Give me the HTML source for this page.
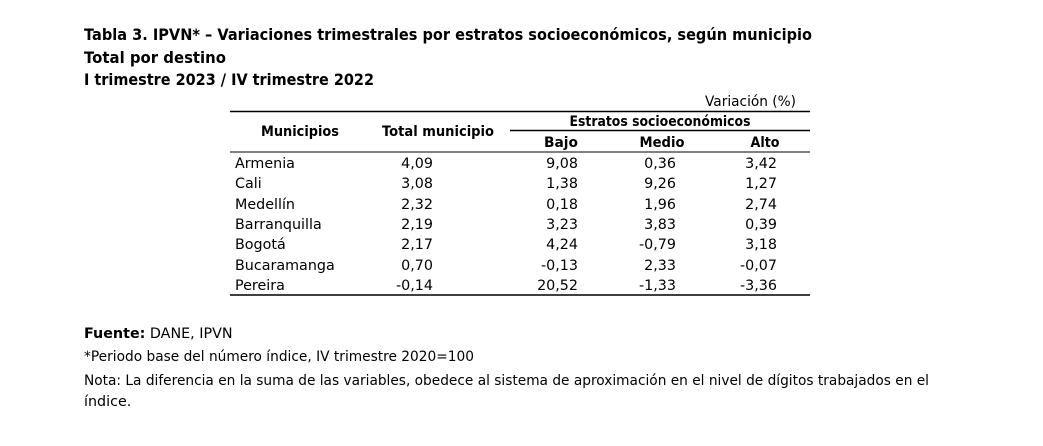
<!DOCTYPE html>
<html><head><meta charset="utf-8"><style>
body{margin:0;background:#fff;}
svg{display:block;}
text{font-family:"DejaVu Sans","Liberation Sans",sans-serif;fill:#000;}
.t{font-weight:bold;font-size:16px;}
.b{font-size:14.3px;}
.h{font-size:14px;font-weight:bold;}
.r{text-anchor:end;}
.m{text-anchor:middle;}
</style></head><body>
<svg width="1043" height="446" viewBox="0 0 1043 446">
<text class="t" x="84" y="40" textLength="728" lengthAdjust="spacingAndGlyphs">Tabla 3. IPVN* – Variaciones trimestrales por estratos socioeconómicos, según municipio</text>
<text class="t" x="84" y="63" textLength="142" lengthAdjust="spacingAndGlyphs">Total por destino</text>
<text class="t" x="84" y="85" textLength="290" lengthAdjust="spacingAndGlyphs">I trimestre 2023 / IV trimestre 2022</text>

<text class="b r" x="796" y="106" textLength="91" lengthAdjust="spacingAndGlyphs">Variación (%)</text>
<line x1="230" y1="111.5" x2="810" y2="111.5" stroke="#000" stroke-width="1.5"/>
<text class="h m" x="300" y="136" textLength="78" lengthAdjust="spacingAndGlyphs">Municipios</text>
<text class="h m" x="438" y="136" textLength="112" lengthAdjust="spacingAndGlyphs">Total municipio</text>
<text class="h m" x="660" y="126" textLength="181" lengthAdjust="spacingAndGlyphs">Estratos socioeconómicos</text>
<line x1="510" y1="130.5" x2="810" y2="130.5" stroke="#000" stroke-width="1.5"/>
<text class="h m" x="561" y="147" textLength="34" lengthAdjust="spacingAndGlyphs">Bajo</text>
<text class="h m" x="662" y="147" textLength="45" lengthAdjust="spacingAndGlyphs">Medio</text>
<text class="h m" x="765" y="147" textLength="29" lengthAdjust="spacingAndGlyphs">Alto</text>
<line x1="230" y1="152" x2="810" y2="152" stroke="#000" stroke-width="1"/>

<g class="b">
<text x="235" y="168">Armenia</text><text class="r" x="433" y="168">4,09</text><text class="r" x="578" y="168">9,08</text><text class="r" x="676" y="168">0,36</text><text class="r" x="777" y="168">3,42</text>
<text x="235" y="188">Cali</text><text class="r" x="433" y="188">3,08</text><text class="r" x="578" y="188">1,38</text><text class="r" x="676" y="188">9,26</text><text class="r" x="777" y="188">1,27</text>
<text x="235" y="209">Medellín</text><text class="r" x="433" y="209">2,32</text><text class="r" x="578" y="209">0,18</text><text class="r" x="676" y="209">1,96</text><text class="r" x="777" y="209">2,74</text>
<text x="235" y="229">Barranquilla</text><text class="r" x="433" y="229">2,19</text><text class="r" x="578" y="229">3,23</text><text class="r" x="676" y="229">3,83</text><text class="r" x="777" y="229">0,39</text>
<text x="235" y="249">Bogotá</text><text class="r" x="433" y="249">2,17</text><text class="r" x="578" y="249">4,24</text><text class="r" x="676" y="249">-0,79</text><text class="r" x="777" y="249">3,18</text>
<text x="235" y="270">Bucaramanga</text><text class="r" x="433" y="270">0,70</text><text class="r" x="578" y="270">-0,13</text><text class="r" x="676" y="270">2,33</text><text class="r" x="777" y="270">-0,07</text>
<text x="235" y="290">Pereira</text><text class="r" x="433" y="290">-0,14</text><text class="r" x="578" y="290">20,52</text><text class="r" x="676" y="290">-1,33</text><text class="r" x="777" y="290">-3,36</text>
</g>
<line x1="230" y1="295" x2="810" y2="295" stroke="#000" stroke-width="1.5"/>

<text class="b" x="84" y="338"><tspan font-weight="bold">Fuente:</tspan> DANE, IPVN</text>
<text class="b" x="84" y="361" textLength="390" lengthAdjust="spacingAndGlyphs">*Periodo base del número índice, IV trimestre 2020=100</text>
<text class="b" x="84" y="385" textLength="845" lengthAdjust="spacingAndGlyphs">Nota: La diferencia en la suma de las variables, obedece al sistema de aproximación en el nivel de dígitos trabajados en el</text>
<text class="b" x="84" y="406">índice.</text>
</svg>
</body></html>
